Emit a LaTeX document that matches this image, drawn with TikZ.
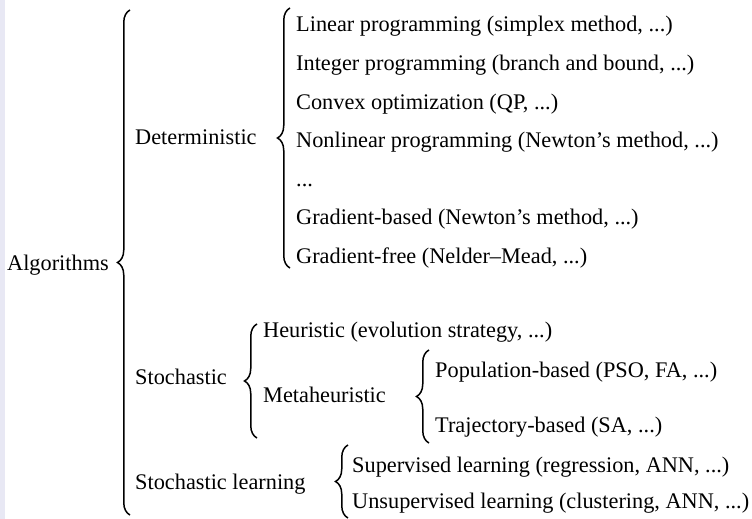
\documentclass[tikz,border=0pt]{standalone}
\usepackage{fontspec}
\setmainfont{Liberation Serif}
\usetikzlibrary{decorations.pathreplacing}
\definecolor{stripcol}{RGB}{232,232,244}
\begin{document}
\begin{tikzpicture}[x=1pt,y=-1pt,
  lbl/.style={anchor=base west,inner sep=0pt,font=\fontsize{22.3}{27}\selectfont},
  brc/.style={decorate,decoration={brace,amplitude=12.5pt},line width=1.5pt}]
\useasboundingbox (0,0) rectangle (752,519);
\fill[white] (0,0) rectangle (752,519);
\fill[stripcol] (0,0) rectangle (5,519);
% root
\node[lbl] (alg) at (7,270) {Algorithms};
\coordinate (b1t) at (130,10); \coordinate (b1b) at (130,515);
\draw[brc] (b1b) -- (b1t);
% deterministic
\node[lbl] (det) at (135,144) {Deterministic};
\coordinate (b2t) at (290,8); \coordinate (b2b) at (290,268);
\draw[brc] (b2b) -- (b2t);
\node[lbl] (d1) at (296,32) {Linear programming (simplex method, ...)};
\node[lbl] (d2) at (296,70.5) {Integer programming (branch and bound, ...)};
\node[lbl] (d3) at (296,109) {Convex optimization (QP, ...)};
\node[lbl] (d4) at (296,147.5) {Nonlinear programming (Newton’s method, ...)};
\node[lbl] (d5) at (296,186) {...};
\node[lbl] (d6) at (296,224.5) {Gradient-based (Newton’s method, ...)};
\node[lbl] (d7) at (296,263) {Gradient-free (Nelder–Mead, ...)};
% stochastic
\node[lbl] (sto) at (135,384) {Stochastic};
\coordinate (b3t) at (257,324); \coordinate (b3b) at (257,438);
\draw[brc] (b3b) -- (b3t);
\node[lbl] (heu) at (263,337) {Heuristic (evolution strategy, ...)};
\node[lbl] (meta) at (263,402) {Metaheuristic};
\coordinate (b4t) at (429,350); \coordinate (b4b) at (429,443);
\draw[brc] (b4b) -- (b4t);
\node[lbl] (pop) at (435,377) {Population-based (PSO, FA, ...)};
\node[lbl] (traj) at (435,432) {Trajectory-based (SA, ...)};
% stochastic learning
\node[lbl] (sl) at (135,489) {Stochastic learning};
\coordinate (b5t) at (348,445); \coordinate (b5b) at (348,518);
\draw[brc] (b5b) -- (b5t);
\node[lbl] (sup) at (352,472) {Supervised learning (regression, ANN, ...)};
\node[lbl] (uns) at (352,508) {Unsupervised learning (clustering, ANN, ...)};
\end{tikzpicture}
\end{document}
